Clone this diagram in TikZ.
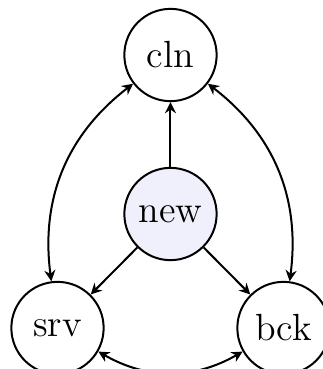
\documentclass[tikz,border=0pt]{standalone}
\usetikzlibrary{arrows.meta}
\definecolor{newfill}{RGB}{240,240,252}
\tikzset{
  tip/.tip={Stealth[length=3.6pt,width=3.6pt,inset=1.2pt]},
  state/.style={circle, draw, line width=0.65pt, minimum size=30pt, inner sep=0pt, font=\fontsize{12.3}{14}\selectfont},
  link/.style={line width=0.65pt, -tip},
  dlink/.style={line width=0.65pt, tip-tip}
}
\begin{document}
\begin{tikzpicture}[x=0.325pt, y=-0.325pt]
  \useasboundingbox (0,0) rectangle (323,369);
  \node[state] (cln) at (170.5,55) {cln};
  \node[state, fill=newfill] (new) at (170.5,214) {new};
  \node[state] (srv) at (57.5,328) {srv};
  \node[state] (bck) at (283.5,328) {bck};
  \draw[link] (new) -- (cln);
  \draw[link] (new) -- (srv);
  \draw[link] (new) -- (bck);
  \draw[dlink] (cln) to[bend right=30] (srv);
  \draw[dlink] (cln) to[bend left=30] (bck);
  \draw[dlink] (srv) to[bend right=30] (bck);
\end{tikzpicture}
\end{document}
